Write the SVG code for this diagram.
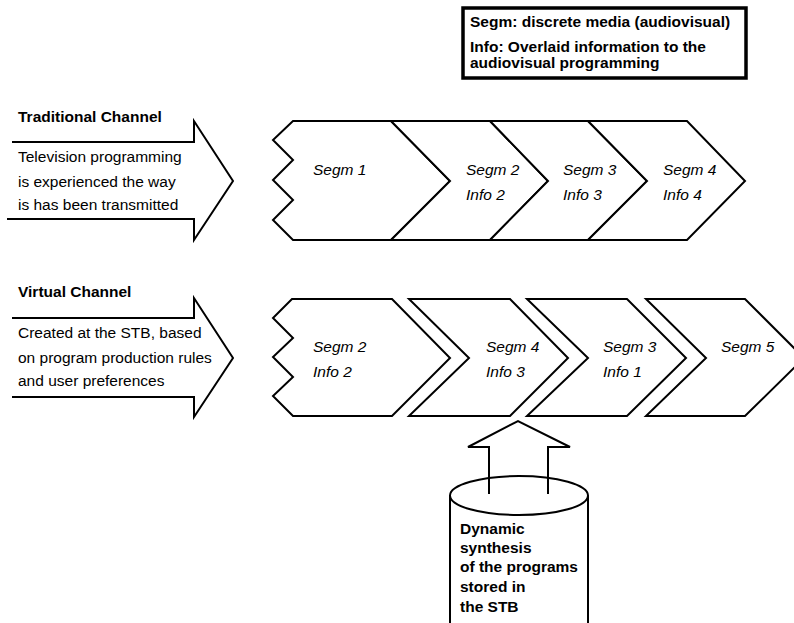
<svg xmlns="http://www.w3.org/2000/svg" width="794" height="623" viewBox="0 0 794 623">
  <style>
    .shape { fill: #fff; stroke: #000; stroke-width: 2; stroke-linejoin: miter; }
    .open { fill: none; stroke: #000; stroke-width: 2; }
    .t { font-family: "Liberation Sans", Arial, sans-serif; font-size: 15.5px; fill: #000; }
    .b { font-weight: bold; }
    .i { font-style: italic; }
  </style>
  <rect width="794" height="623" fill="#fff"/>

  <!-- Legend -->
  <g id="legend">
    <rect x="463" y="8" width="283" height="70" fill="#fff" stroke="#000" stroke-width="3.5"/>
    <text class="t b" x="470" y="27">Segm: discrete media (audiovisual)</text>
    <text class="t b" x="470" y="51.5">Info: Overlaid information to the</text>
    <text class="t b" x="470" y="68">audiovisual programming</text>
  </g>

  <!-- Traditional channel -->
  <g id="traditional-channel">
    <text class="t b" x="18" y="122">Traditional Channel</text>
    <path class="open" d="M12,142 H194 V121 L233,181 L194,240 V219 H7"/>
    <text class="t" x="18" y="162">Television programming</text>
    <text class="t" x="18" y="187">is experienced the way</text>
    <text class="t" x="18" y="210">is has been transmitted</text>
  </g>

  <g id="trad-segm1">
    <path class="shape" d="M293,121 H391 L450,181 L391,240 H293 L273,220 L293,200 L273,180 L293,160 L273,140 Z"/>
    <text class="t i" x="313" y="175">Segm 1</text>
  </g>
  <g id="trad-segm2">
    <path class="shape" d="M391,121 H490 L548,181 L490,240 H391 L450,181 Z"/>
    <text class="t i" x="466" y="175">Segm 2</text>
    <text class="t i" x="466" y="200">Info 2</text>
  </g>
  <g id="trad-segm3">
    <path class="shape" d="M490,121 H588 L647,181 L588,240 H490 L548,181 Z"/>
    <text class="t i" x="563" y="175">Segm 3</text>
    <text class="t i" x="563" y="200">Info 3</text>
  </g>
  <g id="trad-segm4">
    <path class="shape" d="M588,121 H687 L745,181 L687,240 H588 L647,181 Z"/>
    <text class="t i" x="663" y="175">Segm 4</text>
    <text class="t i" x="663" y="200">Info 4</text>
  </g>

  <!-- Virtual channel -->
  <g id="virtual-channel">
    <text class="t b" x="18" y="297">Virtual Channel</text>
    <path class="open" d="M12,318 H194 V298 L233,358 L194,417 V397 H12"/>
    <text class="t" x="18" y="338">Created at the STB, based</text>
    <text class="t" x="18" y="363">on program production rules</text>
    <text class="t" x="18" y="386">and user preferences</text>
  </g>

  <g id="virt-segm2">
    <path class="shape" d="M292,299 H392 L450,358 L392,416 H293 L273,396 L293,377 L273,357 L293,338 L273,318 Z"/>
    <text class="t i" x="313" y="352">Segm 2</text>
    <text class="t i" x="313" y="377">Info 2</text>
  </g>
  <g id="virt-segm4">
    <path class="shape" d="M409,299 H510 L568,358 L510,416 H409 L469,358 Z"/>
    <text class="t i" x="486" y="352">Segm 4</text>
    <text class="t i" x="486" y="377">Info 3</text>
  </g>
  <g id="virt-segm3">
    <path class="shape" d="M527,299 H627 L686,358 L627,416 H527 L588,358 Z"/>
    <text class="t i" x="603" y="352">Segm 3</text>
    <text class="t i" x="603" y="377">Info 1</text>
  </g>
  <g id="virt-segm5">
    <path class="shape" d="M646,299 H745 L804,358 L745,416 H646 L706,358 Z"/>
    <text class="t i" x="721" y="352">Segm 5</text>
  </g>

  <!-- Program store -->
  <g id="program-store">
    <path class="shape" d="M450,495.5 V640 H588 V495.5"/>
    <ellipse class="shape" cx="519" cy="495.5" rx="69" ry="19.5"/>
    <text class="t b" x="460" y="534">Dynamic</text>
    <text class="t b" x="460" y="553">synthesis</text>
    <text class="t b" x="460" y="572">of the programs</text>
    <text class="t b" x="460" y="592">stored in</text>
    <text class="t b" x="460" y="612">the STB</text>
  </g>

  <!-- Connectors -->
  <g id="connectors">
    <path class="open" d="M489,494 V447 H468 L518,421 L570,447 H548 V494"/>
  </g>
</svg>
